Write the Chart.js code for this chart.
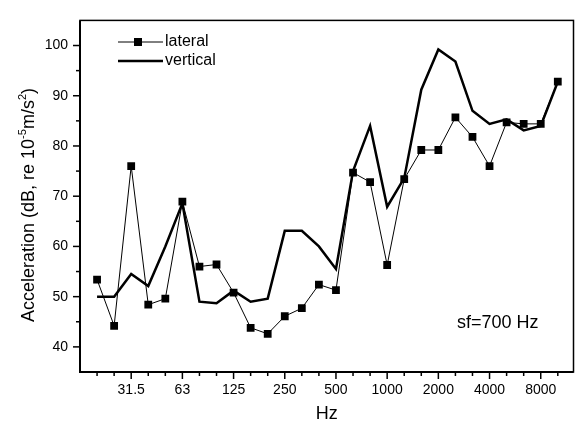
<!DOCTYPE html>
<html>
<head>
	<meta charset="utf-8">
	<title>Acceleration spectrum</title>
	<script src="https://cdn.jsdelivr.net/npm/chart.js@4.4.0/dist/chart.umd.min.js"></script>
	<style>
		body { margin: 0; background: #fff; }
	</style>
</head>
<body>

	<canvas id="mychart" width="579" height="425"></canvas>

	<script type="text/javascript">

		// 1/3 octave bands (Hz), index 0 of the axis is 16 Hz
		const bands = ['20','25','31.5','40','50','63','80','100','125','160','200','250','315','400','500',
			'630','800','1000','1250','1600','2000','2500','3150','4000','5000','6300','8000','10000'];
		const lateral = [53.4, 44.2, 76.0, 48.4, 49.6, 68.9, 56.0, 56.4, 50.8, 43.8, 42.6, 46.1, 47.7, 52.4, 51.3,
			74.7, 72.8, 56.3, 73.4, 79.2, 79.2, 85.7, 81.8, 76.0, 84.7, 84.4, 84.4, 92.8];
		const vertical = [50.0, 50.0, 54.5, 52.1, 60.0, 68.6, 49.0, 48.7, 51.2, 49.0, 49.6, 63.1, 63.1, 60.0, 55.5,
			75.0, 84.0, 67.9, 73.6, 91.2, 99.2, 96.8, 87.0, 84.4, 85.3, 83.1, 84.0, 92.8];
		const xTickLabels = ['31.5','63','125','250','500','1000','2000','4000','8000'];

		const FONT = "'Liberation Sans', Arial, sans-serif";

		function toPoints(vals){
			return vals.map((v, i) => ({ x: i + 1, y: v }));
		}

		// axis ticks, frame, legend, titles and note
		const decorations = {
			id: 'decorations',
			afterDraw(chart){
				const ctx = chart.ctx;
				const a = chart.chartArea;
				const xs = chart.scales.x;
				const ys = chart.scales.y;
				ctx.save();
				ctx.strokeStyle = '#000';
				ctx.fillStyle = '#000';

				// frame
				ctx.lineWidth = 1.5;
				ctx.strokeRect(a.left, a.top, a.right - a.left, a.bottom - a.top);
				ctx.lineWidth = 2;
				ctx.beginPath();
				ctx.moveTo(a.left, a.top); ctx.lineTo(a.left, a.bottom); ctx.lineTo(a.right, a.bottom);
				ctx.stroke();

				// x ticks (outward)
				ctx.lineWidth = 1.5;
				for (let i = 1; i <= bands.length; i++){
					const px = xs.getPixelForValue(i);
					const len = xTickLabels.includes(bands[i - 1]) ? 7 : 4;
					ctx.beginPath(); ctx.moveTo(px, a.bottom); ctx.lineTo(px, a.bottom + len); ctx.stroke();
				}
				// y ticks (outward)
				for (let v = 40; v <= 100; v += 5){
					const py = ys.getPixelForValue(v);
					const len = v % 10 === 0 ? 7 : 4;
					ctx.beginPath(); ctx.moveTo(a.left, py); ctx.lineTo(a.left - len, py); ctx.stroke();
				}

				// legend
				ctx.lineWidth = 1;
				ctx.beginPath(); ctx.moveTo(118, 42); ctx.lineTo(163, 42); ctx.stroke();
				ctx.fillRect(134, 38, 8, 8);
				ctx.lineWidth = 2.5;
				ctx.beginPath(); ctx.moveTo(118, 61); ctx.lineTo(163, 61); ctx.stroke();
				ctx.font = '16px ' + FONT;
				ctx.textBaseline = 'middle';
				ctx.textAlign = 'left';
				ctx.fillText('lateral', 165, 42);
				ctx.fillText('vertical', 165, 61);

				// note
				ctx.font = '18px ' + FONT;
				ctx.fillText('sf=700 Hz', 457, 323);

				// x title
				ctx.textAlign = 'center';
				ctx.textBaseline = 'alphabetic';
				ctx.font = '18px ' + FONT;
				ctx.fillText('Hz', (a.left + a.right) / 2, 419);

				// y title with superscripts
				const parts = [
					['Acceleration (dB, re 10', false],
					['-5', true],
					['m/s', false],
					['2', true],
					[')', false]
				];
				const big = '18px ' + FONT, small = '11px ' + FONT;
				let total = 0;
				parts.forEach(p => { ctx.font = p[1] ? small : big; total += ctx.measureText(p[0]).width; });
				ctx.translate(34, 205);
				ctx.rotate(-Math.PI / 2);
				ctx.textAlign = 'left';
				let x = -total / 2;
				parts.forEach(p => {
					ctx.font = p[1] ? small : big;
					ctx.fillText(p[0], x, p[1] ? -8 : 0);
					x += ctx.measureText(p[0]).width;
				});
				ctx.restore();
			}
		};

		const ctx = document.getElementById('mychart').getContext('2d');
		const myChart = new Chart(ctx, {
			type: 'line',
			data: {
				datasets: [{
					label: 'lateral',
					data: toPoints(lateral),
					borderColor: '#000',
					backgroundColor: '#000',
					borderWidth: 1,
					pointStyle: 'rect',
					pointRadius: 5.5,
					pointBorderWidth: 0,
					tension: 0,
					order: 1
				}, {
					label: 'vertical',
					data: toPoints(vertical),
					borderColor: '#000',
					borderWidth: 2.5,
					pointRadius: 0,
					tension: 0,
					order: 2
				}]
			},
			plugins: [decorations],
			options: {
				responsive: false,
				animation: false,
				layout: { padding: { left: 0, top: 10, right: 3, bottom: 0 } },
				plugins: { legend: { display: false }, tooltip: { enabled: false } },
				scales: {
					x: {
						type: 'linear',
						min: 0,
						max: 28.92,
						grid: { display: false, drawTicks: false },
						border: { display: false },
						afterFit: s => { s.height = 53; },
						afterBuildTicks: s => { s.ticks = bands.map((b, i) => ({ value: i + 1 })); },
						ticks: {
							autoSkip: false,
							maxRotation: 0,
							padding: 10,
							color: '#000',
							font: { family: FONT, size: 14 },
							callback: v => {
								const b = bands[v - 1];
								return xTickLabels.includes(b) ? b : '';
							}
						}
					},
					y: {
						min: 35,
						max: 105,
						grid: { display: false, drawTicks: false },
						border: { display: false },
						afterFit: s => { s.width = 80; },
						afterBuildTicks: s => {
							const t = [];
							for (let v = 40; v <= 100; v += 10) t.push({ value: v });
							s.ticks = t;
						},
						ticks: {
							padding: 12,
							color: '#000',
							font: { family: FONT, size: 14 }
						}
					}
				}
			}
		});

	</script>

</body>
</html>
